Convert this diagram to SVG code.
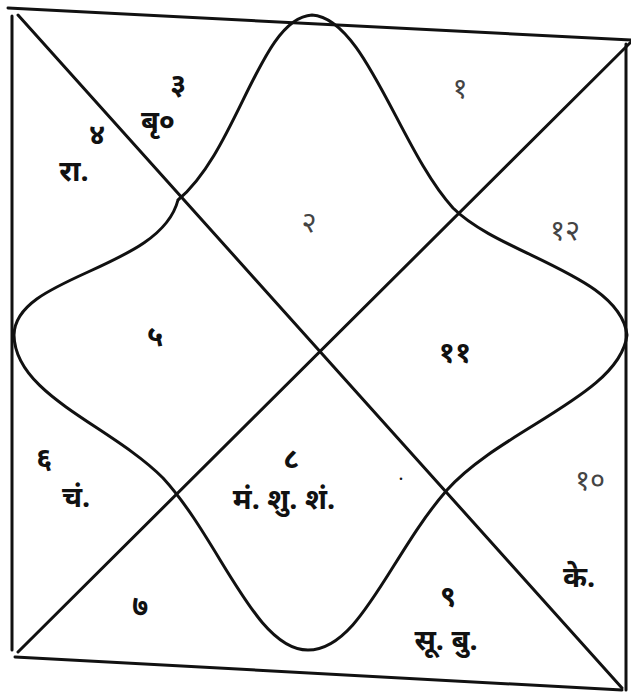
<svg xmlns="http://www.w3.org/2000/svg" width="631" height="695" viewBox="0 0 631 695">
<style>
.ln{fill:none;stroke:#111;stroke-width:3;stroke-linecap:round;stroke-linejoin:round}
.t{font-family:"Noto Sans","Noto Sans Devanagari","DejaVu Sans",sans-serif;fill:#111;font-weight:bold;text-anchor:middle}
.d{font-size:29px}
.p{font-size:29px}
.f{fill:#444;font-weight:normal}
</style>
<rect width="631" height="695" fill="#fff"/>
<g id="connectors">
<path class="ln" d="M8,8 L631,40"/>
<path class="ln" d="M12,16 L12,650"/>
<path class="ln" d="M15,657 L622,690"/>
<path class="ln" d="M626,44 L626,690"/>
<path class="ln" d="M18,15 L622,688"/>
<path class="ln" d="M631,42 L18,652"/>
<path class="ln" d="M178,200 C238,150 260,18 312,15 C365,18 400,150 453,208 C500,255 620,275 627,335 C620,395 500,430 447,490 C390,555 360,650 308,650 C255,650 220,540 163,478 C110,425 15,395 14,335 C15,275 160,270 178,200"/>
</g>
<g id="h3"><text class="t d" x="178" y="94">३</text><text class="t p" x="158" y="131">बृ०</text></g>
<g id="h4"><text class="t d" x="97" y="144">४</text><text class="t p" x="74" y="181">रा.</text></g>
<g id="h1"><text class="t d f" x="460" y="98">१</text></g>
<g id="h2"><text class="t d f" x="309" y="232">२</text></g>
<g id="h12"><text class="t d f" x="565" y="240">१२</text></g>
<g id="h5"><text class="t d" x="155" y="346">५</text></g>
<g id="h11"><text class="t d" x="455" y="362">११</text></g>
<g id="h6"><text class="t d" x="44" y="468">६</text><text class="t p" x="76" y="507">चं.</text></g>
<g id="h8"><text class="t d" x="291" y="468">८</text><text class="t p" x="284" y="509">मं. शु. शं.</text></g>
<text class="t" x="401" y="480" font-size="14">.</text>
<g id="h10"><text class="t d f" x="590" y="490">१०</text><text class="t p" x="579" y="587">के.</text></g>
<g id="h7"><text class="t d" x="140" y="616">७</text></g>
<g id="h9"><text class="t d" x="448" y="606">९</text><text class="t p" x="446" y="650">सू. बु.</text></g>
</svg>
